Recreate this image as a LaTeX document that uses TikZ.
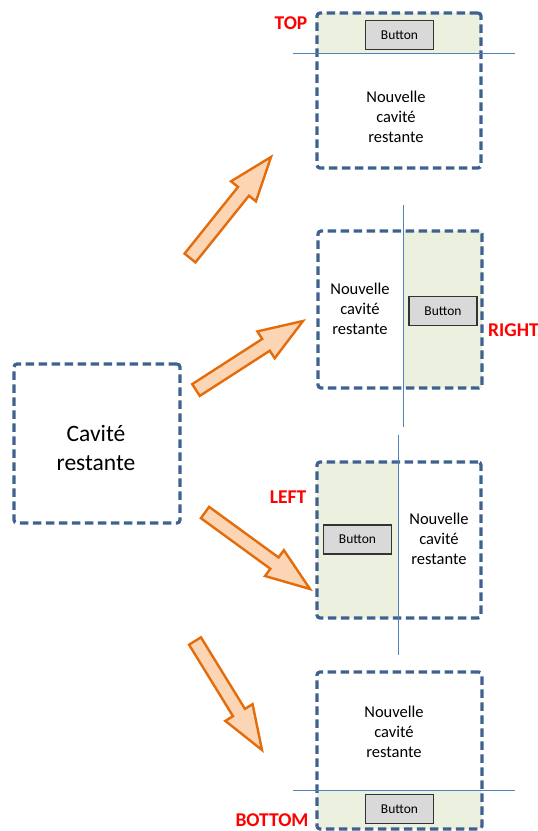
\documentclass[tikz,border=0pt]{standalone}
\usepackage{fontspec}
\setmainfont{Carlito}
\usetikzlibrary{calc}

\definecolor{cavityblue}{HTML}{3E6190}
\definecolor{splitblue}{HTML}{4F81BD}
\definecolor{zonegreen}{HTML}{EBF1DE}
\definecolor{buttongray}{HTML}{D9D9D9}
\definecolor{arroworange}{HTML}{E46C0A}
\definecolor{arrowfill}{HTML}{FCD5B5}

\tikzset{
    cavity/.style={draw=cavityblue, line width=3.2pt, dash pattern=on 8.5pt off 4.5pt, rounded corners=3pt, minimum width=164pt, minimum height=156pt, inner sep=0pt},
    cavitytext/.style={align=center, font=\fontsize{16.5}{20}\selectfont},
    button/.style={draw=black!80, fill=buttongray, line width=1.2pt, minimum width=68pt, minimum height=29pt, inner sep=0pt, font=\fontsize{13.5}{16}\selectfont},
    side/.style={text=red, font=\fontsize{19.5}{22}\selectfont\bfseries, inner sep=0pt},
    split/.style={draw=splitblue, line width=0.9pt},
    zone/.style={fill=zonegreen},
    bigarrow/.style={draw=arroworange, fill=arrowfill, line width=2.4pt, line join=miter},
}

% block arrow from tail to tip
\newcommand{\blockarrow}[2]{%
    \coordinate (#2 base) at ($(#2)!44pt!(#1)$);
    \draw[bigarrow] ($(#1)!7pt!90:(#2)$) -- ($(#2 base)!7pt!90:(#2)$) -- ($(#2 base)!16pt!90:(#2)$) -- (#2)
        -- ($(#2 base)!16pt!-90:(#2)$) -- ($(#2 base)!7pt!-90:(#2)$) -- ($(#1)!7pt!-90:(#2)$) -- cycle;
}

\begin{document}
\begin{tikzpicture}[x=1pt, y=-1pt]
    \useasboundingbox (0, 0) rectangle (538, 831);

    % Initial cavity
    \node[cavity, minimum width=166pt, minimum height=159pt] (cav) at (97, 443.5) {};
    \node[cavitytext, font=\fontsize{23.5}{29}\selectfont] (cavtext) at (96, 448) {Cavité\\restante};

    % Top split
    \fill[zone] (317, 13) rectangle (481, 53);
    \node[cavity, minimum height=155pt] (top) at (399, 90.5) {};
    \draw[split] (293, 53) -- (515, 53);
    \node[button] (topbutton) at (399.5, 35) {Button};
    \node[cavitytext] (toptext) at (396, 117) {Nouvelle\\cavité\\restante};
    \node[side] (toplabel) at (291, 23) {TOP};

    % Right split
    \fill[zone] (403, 231) rectangle (482, 388);
    \node[cavity, minimum height=157pt] (right) at (400, 309.5) {};
    \draw[split] (403, 205) -- (403, 427);
    \node[button] (rightbutton) at (443, 311) {Button};
    \node[cavitytext] (righttext) at (360, 309) {Nouvelle\\cavité\\restante};
    \node[side, anchor=west] (rightlabel) at (488, 330) {RIGHT};

    % Left split
    \fill[zone] (317, 462) rectangle (398, 618);
    \node[cavity] (left) at (399, 540) {};
    \draw[split] (398, 435) -- (398, 655);
    \node[button] (leftbutton) at (357.5, 539.5) {Button};
    \node[cavitytext] (lefttext) at (439, 539) {Nouvelle\\cavité\\restante};
    \node[side] (leftlabel) at (288, 497) {LEFT};

    % Bottom split
    \fill[zone] (317, 790) rectangle (482, 829);
    \node[cavity, minimum width=165pt, minimum height=157pt] (bottom) at (399.5, 750.5) {};
    \draw[split] (293, 790) -- (515, 790);
    \node[button] (bottombutton) at (399.5, 809) {Button};
    \node[cavitytext] (bottomtext) at (394, 731.5) {Nouvelle\\cavité\\restante};
    \node[side] (bottomlabel) at (272, 820) {BOTTOM};

    % Arrows
    \coordinate (top tail) at (190, 258);
    \coordinate (top tip) at (271, 157);
    \coordinate (right tail) at (196, 390);
    \coordinate (right tip) at (303, 321);
    \coordinate (left tail) at (205, 512.5);
    \coordinate (left tip) at (310, 589);
    \coordinate (bottom tail) at (195, 641);
    \coordinate (bottom tip) at (262, 750);
    \foreach \s in {top, right, left, bottom} {
        \blockarrow{\s\space tail}{\s\space tip}
    }
\end{tikzpicture}
\end{document}
